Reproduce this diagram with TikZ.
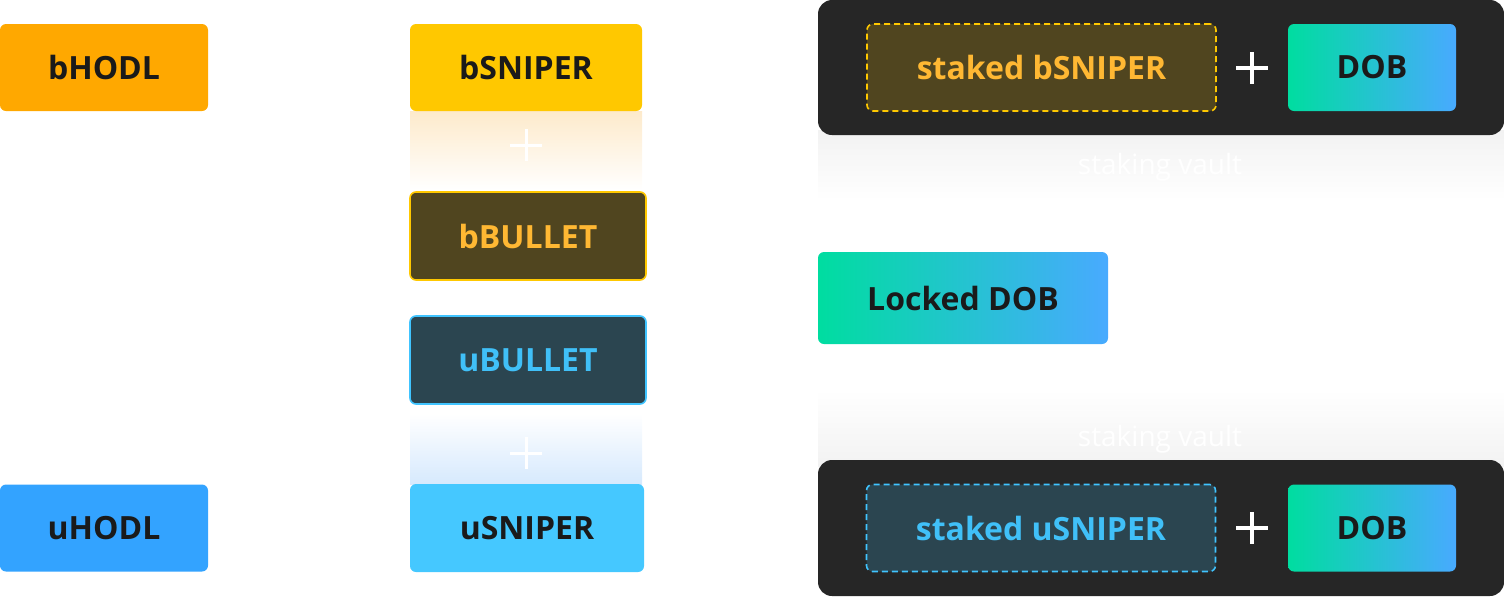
\documentclass[tikz,border=0pt]{standalone}
\usepackage{fontspec}
\setmainfont{Open Sans}
\definecolor{bhodl}{HTML}{FFA800}
\definecolor{bsniper}{HTML}{FFC800}
\definecolor{bbulletfill}{HTML}{50451F}
\definecolor{bbullettext}{HTML}{FFB833}
\definecolor{ubulletfill}{HTML}{2B4550}
\definecolor{ubullettext}{HTML}{40C0F8}
\definecolor{ublue}{HTML}{40C4FF}
\definecolor{usniper}{HTML}{45C8FF}
\definecolor{uhodl}{HTML}{33A3FF}
\definecolor{vaultdark}{HTML}{262626}
\definecolor{tokentext}{HTML}{1A1A1A}
\definecolor{dobleft}{HTML}{00DDA0}
\definecolor{dobright}{HTML}{48AAFF}
\definecolor{lightorange}{HTML}{FDEACB}
\definecolor{lightblue}{HTML}{D6E9FD}
\definecolor{vaultgray}{HTML}{F2F2F2}
\tikzset{
    token/.style={rounded corners=3pt, inner sep=0pt, minimum height=43.5pt,
        font=\bfseries\fontsize{16}{18}\selectfont, text=tokentext},
    bullet/.style={token, minimum width=118pt, minimum height=44pt, line width=0.8pt},
    staked/.style={token, minimum width=174.5pt, line width=0.8pt, dash pattern=on 3pt off 2pt},
    dob/.style={token, left color=dobleft, right color=dobright, minimum width=84pt},
    vault/.style={rounded corners=7pt, fill=vaultdark, inner sep=0pt, minimum width=343pt},
    vaultlabel/.style={text=white, font=\fontsize{14}{16}\selectfont},
    plus/.style={white, line width=2pt},
    softplus/.style={white, line width=1.5pt}
}
\begin{document}
\begin{tikzpicture}[x=0.5pt, y=-0.5pt]
    \useasboundingbox (0,0) rectangle (1504,596);
    % faded bands
    \fill[top color=lightorange, bottom color=white] (410,111) rectangle (642,190);
    \fill[top color=white, bottom color=lightblue] (410,414) rectangle (642,484);
    \fill[top color=vaultgray, bottom color=white] (818,130) rectangle (1504,200);
    \fill[top color=white, bottom color=vaultgray] (818,390) rectangle (1504,466);
    \foreach \y in {145, 453}
        \draw[softplus] (510,\y) -- (542,\y) (526,{\y-16}) -- (526,{\y+16});
    % left column
    \node[token, fill=bhodl, minimum width=104pt] (bhodl) at (104,67.5) {bHODL};
    \node[token, fill=uhodl, minimum width=104pt] (uhodl) at (104,528) {uHODL};
    % middle column
    \node[token, fill=bsniper, minimum width=116pt] (bsniper) at (526,67.5) {bSNIPER};
    \node[bullet, fill=bbulletfill, draw=bsniper, text=bbullettext] (bbullet) at (528,236) {bBULLET};
    \node[bullet, fill=ubulletfill, draw=ublue, text=ubullettext] (ubullet) at (528,360) {uBULLET};
    \node[token, fill=usniper, minimum width=117pt, minimum height=44pt] (usniper) at (527,528) {uSNIPER};
    % staking vaults
    \node[vault, minimum height=67.5pt] (vaulttop) at (1161,67.5) {};
    \node[vault, minimum height=68pt] (vaultbottom) at (1161,528) {};
    \node[vaultlabel] (labeltop) at (1160,167) {staking vault};
    \node[vaultlabel] (labelbottom) at (1160,439) {staking vault};
    \node[staked, fill=bbulletfill, draw=bsniper, text=bbullettext] (stakedb) at (1041.5,67.5) {staked bSNIPER};
    \node[staked, fill=ubulletfill, draw=ublue, text=ubullettext] (stakedu) at (1041,528) {staked uSNIPER};
    \node[dob] (dobtop) at (1372,67.5) {DOB};
    \node[dob] (dobbottom) at (1372,528) {DOB};
    \foreach \y in {68, 528}
        \draw[plus] (1236,\y) -- (1268,\y) (1252,{\y-16}) -- (1252,{\y+16});
    % locked
    \node[dob, minimum width=145pt, minimum height=46pt] (locked) at (963,298) {Locked DOB};
\end{tikzpicture}
\end{document}
